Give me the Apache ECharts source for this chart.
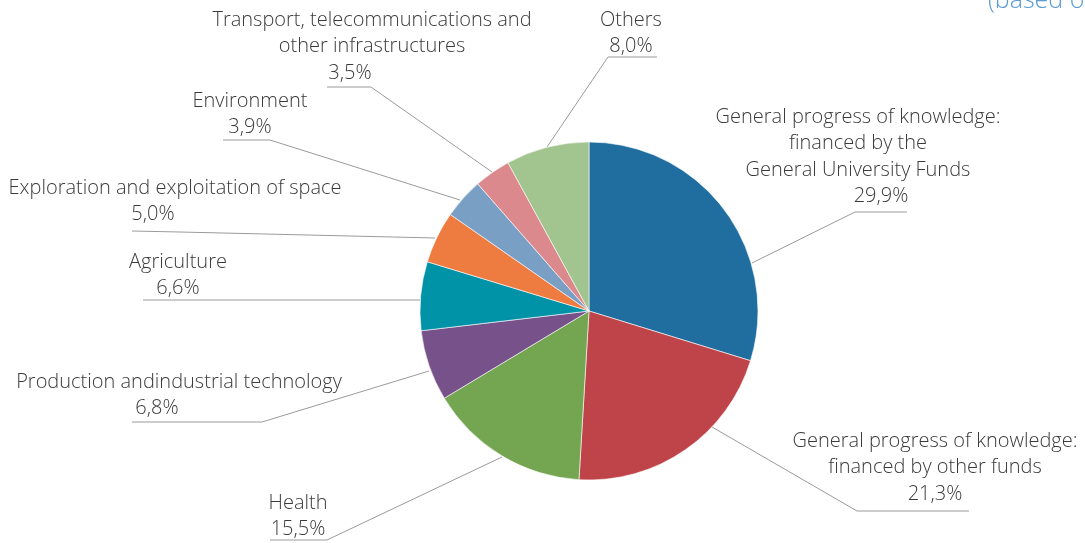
<!DOCTYPE html>
<html>
<head>
<meta charset="utf-8">
<script src="https://cdn.jsdelivr.net/npm/echarts@6/dist/echarts.min.js"></script>
<style>
  html, body { margin: 0; padding: 0; background: #fff; }
  #chart { width: 1085px; height: 543px; }
</style>
</head>
<body>
<div id="chart"></div>
<script>
// categories clockwise from 12 o'clock
var categories = [
    'General progress of knowledge:\nfinanced by the\nGeneral University Funds',
    'General progress of knowledge:\nfinanced by other funds',
    'Health',
    'Production andindustrial technology',
    'Agriculture',
    'Exploration and exploitation of space',
    'Environment',
    'Transport, telecommunications and\nother infrastructures',
    'Others'
];
var shares = [29.9, 21.3, 15.5, 6.8, 6.6, 5.0, 3.9, 3.5, 8.0]; // %

var colors = ['#1f6e9f', '#be444a', '#74a551', '#77528a', '#0093a8', '#ee7b3f', '#7a9fc5', '#db898c', '#a2c48f'];

// label placement (text centre x, top y, underline/leader points, percent line shift)
var labelPos = [
    { x: 858, y: 104, pts: [[752, 263], [855, 212], [907, 212]], v: 'vr' },
    { x: 935, y: 428, pts: [[712, 427], [857, 511], [969, 511]], v: 'v' },
    { x: 298, y: 490, pts: [[502, 457], [327, 540], [270, 540]], v: 'v' },
    { x: 179, y: 369, pts: [[429, 371], [262, 422], [132, 422]], v: 'vl' },
    { x: 178, y: 249, pts: [[420, 300], [300, 300], [143, 300]], v: 'v' },
    { x: 175, y: 175, pts: [[435, 238], [180, 232], [132, 231]], v: 'vl' },
    { x: 250, y: 88,  pts: [[460, 200], [270, 140], [223, 140]], v: 'v' },
    { x: 372, y: 7,   pts: [[492, 172], [371, 87], [327, 87]], v: 'vl' },
    { x: 631, y: 7,   pts: [[547, 147], [608, 57], [657, 57]], v: 'v' }
];

var FONT = '"Open Sans", Lato, sans-serif';
var chart = echarts.init(document.getElementById('chart'));

var seriesData = [];
for (var i = 0; i < categories.length; i++) {
    seriesData.push({ name: categories[i], value: shares[i], itemStyle: { color: colors[i] } });
}

function txt(extra) {
    var s = { fontFamily: FONT, fontWeight: 300, fontSize: 20, color: '#3a3a3a', lineHeight: 26.5 };
    for (var k in extra) s[k] = extra[k];
    return s;
}

chart.setOption({
    animation: false,
    title: {
        text: '(based on',
        left: 988,
        top: -12,
        padding: 0,
        textStyle: { fontFamily: FONT, fontWeight: 300, fontSize: 25, color: '#5b9bd5' }
    },
    series: [{
        type: 'pie',
        center: [589, 311],
        radius: 169,
        startAngle: 90,
        clockwise: true,
        avoidLabelOverlap: false,
        itemStyle: { borderColor: '#ffffff', borderWidth: 0.6 },
        label: {
            show: true,
            position: 'outside',
            fontFamily: FONT,
            fontWeight: 300,
            fontSize: 20,
            color: '#3a3a3a',
            formatter: function (p) {
                var lines = p.name.split('\n').map(function (s) { return '{n|' + s + '}'; });
                var pct = p.value.toFixed(1).replace('.', ',') + '%';
                lines.push('{' + labelPos[p.dataIndex].v + '|' + pct + '}');
                return lines.join('\n');
            },
            rich: {
                n: txt({}),
                v: txt({}),
                vl: txt({ padding: [0, 44, 0, 0] }),
                vr: txt({ padding: [0, 0, 0, 46] })
            }
        },
        labelLine: {
            show: true,
            lineStyle: { color: '#9a9a9a', width: 1 }
        },
        labelLayout: function (params) {
            var lp = labelPos[params.dataIndex];
            return {
                x: lp.x,
                y: lp.y,
                align: 'center',
                verticalAlign: 'top',
                labelLinePoints: lp.pts
            };
        },
        data: seriesData
    }]
});
</script>
</body>
</html>
